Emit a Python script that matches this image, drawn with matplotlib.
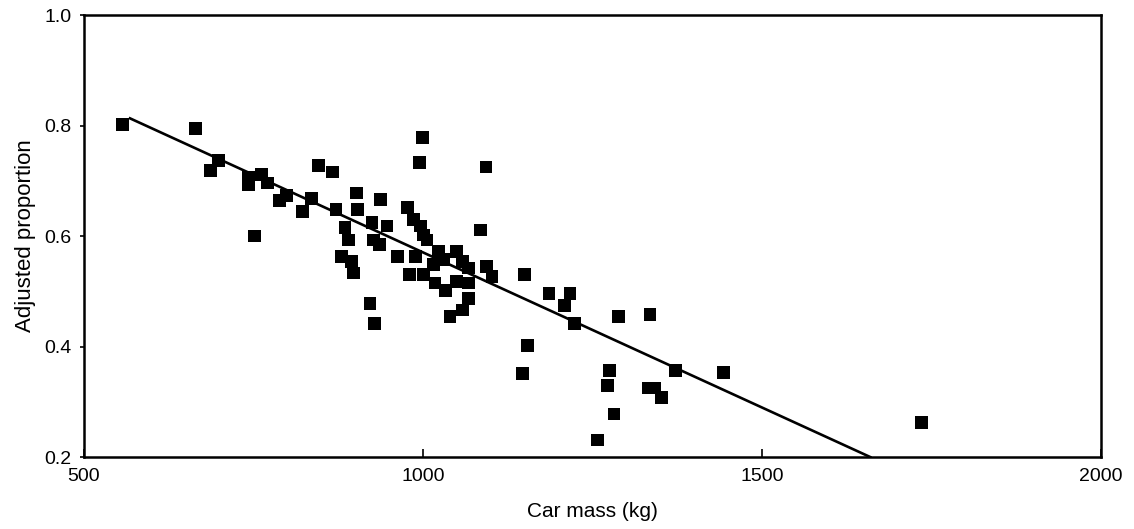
import numpy as np
import matplotlib
matplotlib.use("Agg")
import matplotlib.pyplot as plt

plt.rcParams['font.family'] = ['Liberation Sans', 'DejaVu Sans']

# car mass (kg) and adjusted proportion
mass = [557, 665, 698, 687, 743, 743, 762, 771, 752, 789,
        799, 836, 823, 846, 867, 902, 937, 872, 904, 977,
        986, 996, 1001, 1006, 1085, 925, 947, 885, 890, 927,
        936, 880, 895, 898, 963, 989, 1023, 1050, 1016, 1031,
        1067, 1094, 1102, 980, 1001, 1018, 1033, 1050, 1067, 1067,
        1058, 1040, 922, 929, 999, 995, 1093, 1150, 1186, 1217,
        1209, 1224, 1289, 1335, 1154, 1147, 1275, 1272, 1332, 1342,
        1352, 1373, 1444, 1282, 1258, 1735, 1058]
prop = [0.802, 0.795, 0.736, 0.719, 0.707, 0.693, 0.712, 0.696, 0.600, 0.664,
        0.674, 0.668, 0.644, 0.728, 0.716, 0.678, 0.666, 0.648, 0.648, 0.651,
        0.630, 0.618, 0.602, 0.593, 0.611, 0.624, 0.618, 0.615, 0.593, 0.593,
        0.584, 0.563, 0.554, 0.533, 0.563, 0.563, 0.572, 0.572, 0.548, 0.557,
        0.542, 0.545, 0.527, 0.530, 0.530, 0.515, 0.502, 0.518, 0.515, 0.487,
        0.466, 0.454, 0.478, 0.442, 0.779, 0.733, 0.725, 0.530, 0.496, 0.496,
        0.474, 0.441, 0.454, 0.458, 0.402, 0.351, 0.356, 0.330, 0.325, 0.325,
        0.308, 0.356, 0.353, 0.278, 0.231, 0.263, 0.554]

# fitted line end points
fit_mass = [568, 1660]
fit_prop = [0.813, 0.200]

xticks = [500, 1000, 1500, 2000]
yticks = [0.2, 0.4, 0.6, 0.8, 1.0]

fig = plt.figure(figsize=(11.34, 5.29), dpi=100, facecolor="white")
ax = fig.add_axes([0.074, 0.136, 0.8967, 0.8356])

ax.plot(fit_mass, fit_prop, "-", color="black", lw=1.9, zorder=2)
ax.scatter(mass, prop, marker="s", s=85, c="black", edgecolors="none", zorder=3)

ax.set_xlim(500, 2000)
ax.set_ylim(0.2, 1.0)
ax.set_xticks(xticks)
ax.set_yticks(yticks)
ax.set_xticklabels([str(v) for v in xticks])
ax.set_yticklabels([f"{v:.1f}" for v in yticks])
ax.tick_params(axis="x", direction="in", length=6, width=1.2, labelsize=14, pad=8)
ax.tick_params(axis="y", direction="out", length=3, width=1.2, labelsize=14, pad=6)
for sp in ax.spines.values():
    sp.set_linewidth(1.8)

ax.set_xlabel("Car mass (kg)", fontsize=15, labelpad=12)
ax.set_ylabel("Adjusted proportion", fontsize=16, labelpad=6)

fig.savefig("out.png", dpi=100, facecolor="white")
